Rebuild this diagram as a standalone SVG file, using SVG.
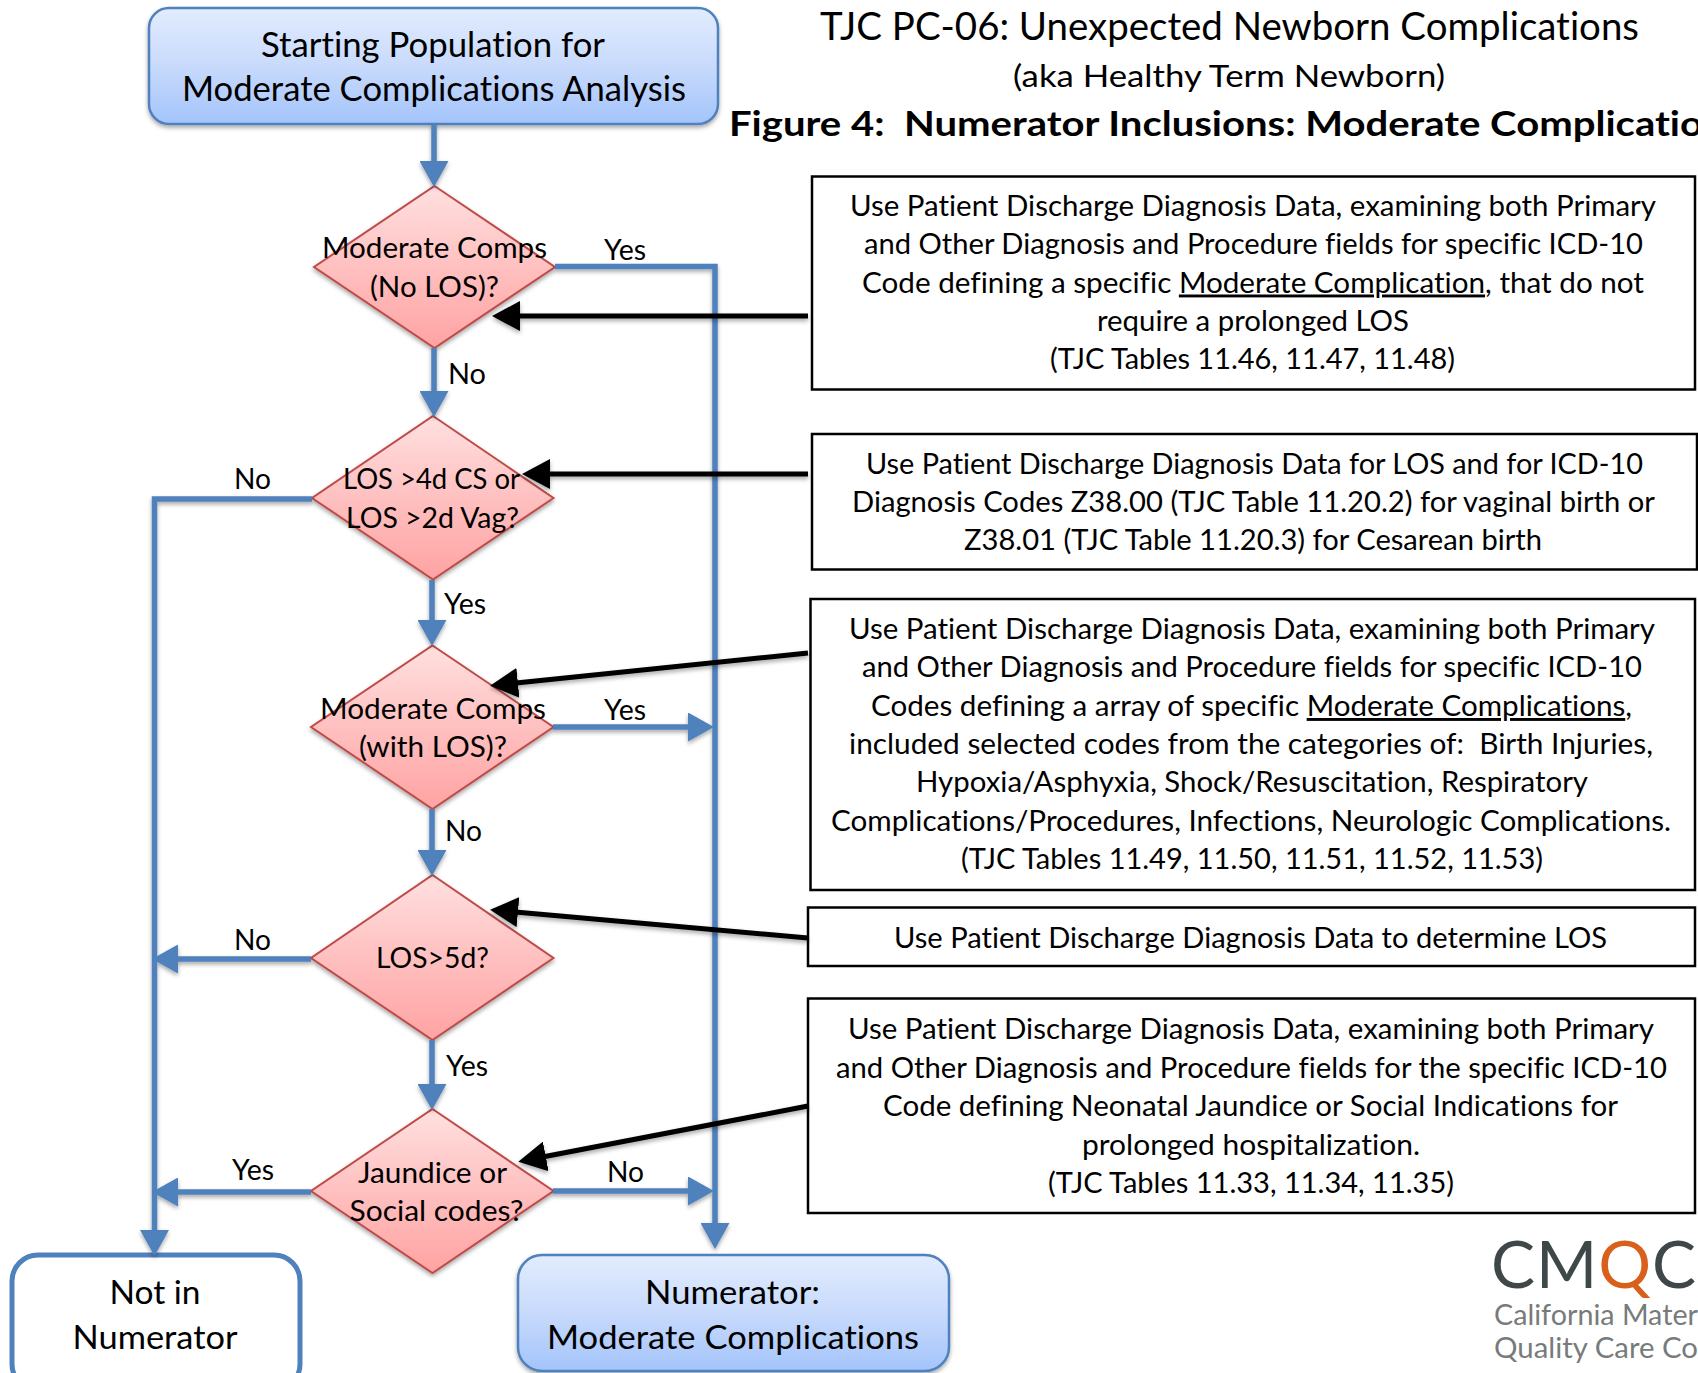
<svg xmlns="http://www.w3.org/2000/svg" width="1698" height="1373" viewBox="0 0 1698 1373">
<style>
text{font-family:Lato,"Liberation Sans",sans-serif;font-size:29px;fill:#000;white-space:pre;font-variant-ligatures:none}
.h1{font-size:38px}.h2{font-size:31px}.h3{font-size:35px;font-weight:700}
.lg{font-size:34px}.end{font-size:33px}
.u{text-decoration:underline}
.blue{fill:none;stroke:#4F81BD;stroke-width:5.5}
.black{fill:none;stroke:#000;stroke-width:5}
.start{fill:url(#gb);stroke:#4F81BD;stroke-width:2.5}
.dia{fill:url(#gr);stroke:#BE4B48;stroke-width:2}
.note{fill:#fff;stroke:#000;stroke-width:2.5}
.shadow{filter:url(#sh)}
.logo{font-size:66px;fill:#3F4848}
.logo2{font-size:28px;fill:#777B7B}
</style>
<defs>
<linearGradient id="gb" x1="0" y1="0" x2="0" y2="1"><stop offset="0" stop-color="#E2ECFE"/><stop offset="0.5" stop-color="#C8DAFC"/><stop offset="1" stop-color="#A3C4FB"/></linearGradient>
<linearGradient id="gr" x1="0" y1="0" x2="0" y2="1"><stop offset="0" stop-color="#FFE0E0"/><stop offset="0.5" stop-color="#FFC0C0"/><stop offset="1" stop-color="#FFA3A3"/></linearGradient>
<filter id="sh" x="-10%" y="-10%" width="120%" height="125%"><feDropShadow dx="0" dy="2.5" stdDeviation="2" flood-color="#000" flood-opacity="0.35"/></filter>
<marker id="ab" markerUnits="userSpaceOnUse" markerWidth="26" markerHeight="29" refX="13" refY="14.5" orient="auto"><path d="M0 0L26 14.5L0 29Z" fill="#4F81BD"/></marker>
<marker id="ak" markerUnits="userSpaceOnUse" markerWidth="28" markerHeight="30" refX="14" refY="15" orient="auto"><path d="M0 0L28 15L0 30Z" fill="#000"/></marker>
</defs>
<rect width="1698" height="1373" fill="#fff"/>

<g id="titles">
<text class="h1" x="820" y="40" textLength="819" lengthAdjust="spacingAndGlyphs">TJC PC-06: Unexpected Newborn Complications</text>
<text class="h2" x="1013" y="87" textLength="432" lengthAdjust="spacingAndGlyphs">(aka Healthy Term Newborn)</text>
<text class="h3" x="729" y="136" textLength="974" lengthAdjust="spacingAndGlyphs">Figure 4:  Numerator Inclusions: Moderate Complicatio</text>
</g>

<g id="node-start">
<rect class="start shadow" x="149" y="8" width="569" height="116" rx="20"/>
<text class="lg" x="261" y="57" textLength="344" lengthAdjust="spacingAndGlyphs">Starting Population for</text>
<text class="lg" x="182" y="101" textLength="504" lengthAdjust="spacingAndGlyphs">Moderate Complications Analysis</text>
</g>
<g id="node-d1">
<polygon class="dia shadow" points="434.5,186 555,267 434.5,348 314,267"/>
<text x="322" y="258" textLength="225" lengthAdjust="spacingAndGlyphs">Moderate Comps</text>
<text x="370" y="297" textLength="129" lengthAdjust="spacingAndGlyphs">(No LOS)?</text>
</g>
<g id="node-d2">
<polygon class="dia shadow" points="433,416 553.5,498 433,579.5 312,498"/>
<text x="343" y="489" textLength="177" lengthAdjust="spacingAndGlyphs">LOS &gt;4d CS or</text>
<text x="346" y="528" textLength="173" lengthAdjust="spacingAndGlyphs">LOS &gt;2d Vag?</text>
</g>
<g id="node-d3">
<polygon class="dia shadow" points="432.5,645.5 553.5,727 432.5,809 311,727"/>
<text x="320" y="719" textLength="226" lengthAdjust="spacingAndGlyphs">Moderate Comps</text>
<text x="359" y="757" textLength="148" lengthAdjust="spacingAndGlyphs">(with LOS)?</text>
</g>
<g id="node-d4">
<polygon class="dia shadow" points="432.5,875 553.5,958 432.5,1040 311,958"/>
<text x="376" y="968" textLength="113" lengthAdjust="spacingAndGlyphs">LOS&gt;5d?</text>
</g>
<g id="node-d5">
<polygon class="dia shadow" points="432.5,1109 553.5,1191 432.5,1273 311,1191"/>
<text x="358" y="1183" textLength="149" lengthAdjust="spacingAndGlyphs">Jaundice or</text>
<text x="349.5" y="1220.5" textLength="174" lengthAdjust="spacingAndGlyphs">Social codes?</text>
</g>
<g id="node-not">
<rect x="12" y="1255" width="288" height="135" rx="26" fill="#fff" stroke="#4F81BD" stroke-width="5"/>
<text class="end" x="109.5" y="1304" textLength="91" lengthAdjust="spacingAndGlyphs">Not in</text>
<text class="end" x="72.5" y="1349" textLength="165" lengthAdjust="spacingAndGlyphs">Numerator</text>
</g>
<g id="node-num">
<rect class="start shadow" x="518" y="1255" width="431" height="116" rx="24"/>
<text class="end" x="645" y="1304" textLength="175" lengthAdjust="spacingAndGlyphs">Numerator:</text>
<text class="end" x="547" y="1349" textLength="372" lengthAdjust="spacingAndGlyphs">Moderate Complications</text>
</g>

<g id="note-1">
<rect class="note" x="812" y="176.5" width="883" height="213"/>
<text x="850" y="216" textLength="806" lengthAdjust="spacingAndGlyphs">Use Patient Discharge Diagnosis Data, examining both Primary</text>
<text x="864" y="254" textLength="779" lengthAdjust="spacingAndGlyphs">and Other Diagnosis and Procedure fields for specific ICD-10</text>
<text x="862" y="292.5" textLength="782" lengthAdjust="spacingAndGlyphs">Code defining a specific <tspan class="u">Moderate Complication</tspan>, that do not</text>
<text x="1097" y="330.5" textLength="312" lengthAdjust="spacingAndGlyphs">require a prolonged LOS</text>
<text x="1050" y="369" textLength="405" lengthAdjust="spacingAndGlyphs">(TJC Tables 11.46, 11.47, 11.48)</text>
</g>
<g id="note-2">
<rect class="note" x="812" y="434" width="885" height="135.5"/>
<text x="866" y="473.5" textLength="777" lengthAdjust="spacingAndGlyphs">Use Patient Discharge Diagnosis Data for LOS and for ICD-10</text>
<text x="852" y="511.5" textLength="803" lengthAdjust="spacingAndGlyphs">Diagnosis Codes Z38.00 (TJC Table 11.20.2) for vaginal birth or</text>
<text x="964" y="550" textLength="578" lengthAdjust="spacingAndGlyphs">Z38.01 (TJC Table 11.20.3) for Cesarean birth</text>
</g>
<g id="note-3">
<rect class="note" x="810.5" y="599" width="884.5" height="291"/>
<text x="849" y="639" textLength="806" lengthAdjust="spacingAndGlyphs">Use Patient Discharge Diagnosis Data, examining both Primary</text>
<text x="862" y="677" textLength="780" lengthAdjust="spacingAndGlyphs">and Other Diagnosis and Procedure fields for specific ICD-10</text>
<text x="871" y="716" textLength="761" lengthAdjust="spacingAndGlyphs">Codes defining a array of specific <tspan class="u">Moderate Complications</tspan>,</text>
<text x="849" y="754" textLength="804" lengthAdjust="spacingAndGlyphs">included selected codes from the categories of:  Birth Injuries,</text>
<text x="916" y="792" textLength="672" lengthAdjust="spacingAndGlyphs">Hypoxia/Asphyxia, Shock/Resuscitation, Respiratory</text>
<text x="831" y="831" textLength="840" lengthAdjust="spacingAndGlyphs">Complications/Procedures, Infections, Neurologic Complications.</text>
<text x="961" y="869" textLength="582" lengthAdjust="spacingAndGlyphs">(TJC Tables 11.49, 11.50, 11.51, 11.52, 11.53)</text>
</g>
<g id="note-4">
<rect class="note" x="808" y="907.5" width="887" height="58.5"/>
<text x="894" y="948" textLength="713" lengthAdjust="spacingAndGlyphs">Use Patient Discharge Diagnosis Data to determine LOS</text>
</g>
<g id="note-5">
<rect class="note" x="808" y="998.5" width="887" height="214.5"/>
<text x="848" y="1039" textLength="806" lengthAdjust="spacingAndGlyphs">Use Patient Discharge Diagnosis Data, examining both Primary</text>
<text x="836" y="1078" textLength="831" lengthAdjust="spacingAndGlyphs">and Other Diagnosis and Procedure fields for the specific ICD-10</text>
<text x="883" y="1116" textLength="735" lengthAdjust="spacingAndGlyphs">Code defining Neonatal Jaundice or Social Indications for</text>
<text x="1082" y="1154.5" textLength="338" lengthAdjust="spacingAndGlyphs">prolonged hospitalization.</text>
<text x="1048" y="1193" textLength="406" lengthAdjust="spacingAndGlyphs">(TJC Tables 11.33, 11.34, 11.35)</text>
</g>

<g id="connectors">
<g class="shadow">
<path class="blue" d="M434 124V174" marker-end="url(#ab)"/>
<path class="blue" d="M555 266.5H715V1236" marker-end="url(#ab)"/>
<path class="blue" d="M434 348V404" marker-end="url(#ab)"/>
<path class="blue" d="M312 499H154.500V1243" marker-end="url(#ab)"/>
<path class="blue" d="M432 580V633" marker-end="url(#ab)"/>
<path class="blue" d="M553 727H701" marker-end="url(#ab)"/>
<path class="blue" d="M432 809V863" marker-end="url(#ab)"/>
<path class="blue" d="M311 959H165" marker-end="url(#ab)"/>
<path class="blue" d="M432 1040V1097" marker-end="url(#ab)"/>
<path class="blue" d="M311 1192H165" marker-end="url(#ab)"/>
<path class="blue" d="M553 1191H701" marker-end="url(#ab)"/>
</g>
<g class="shadow">
<path class="black" d="M808 316H506" marker-end="url(#ak)"/>
<path class="black" d="M808 474H536" marker-end="url(#ak)"/>
<path class="black" d="M808 653L504 684.3" marker-end="url(#ak)"/>
<path class="black" d="M808 938L504 910.9" marker-end="url(#ak)"/>
<path class="black" d="M808 1106L532 1159" marker-end="url(#ak)"/>
</g>
</g>

<g id="connector-labels">
<text x="604" y="260" textLength="42" lengthAdjust="spacingAndGlyphs">Yes</text>
<text x="448" y="384" textLength="38" lengthAdjust="spacingAndGlyphs">No</text>
<text x="234" y="489" textLength="37" lengthAdjust="spacingAndGlyphs">No</text>
<text x="444" y="614" textLength="42" lengthAdjust="spacingAndGlyphs">Yes</text>
<text x="604" y="720" textLength="42" lengthAdjust="spacingAndGlyphs">Yes</text>
<text x="445" y="841" textLength="37" lengthAdjust="spacingAndGlyphs">No</text>
<text x="234" y="950" textLength="37" lengthAdjust="spacingAndGlyphs">No</text>
<text x="446" y="1076" textLength="42" lengthAdjust="spacingAndGlyphs">Yes</text>
<text x="232" y="1180" textLength="42" lengthAdjust="spacingAndGlyphs">Yes</text>
<text x="607" y="1182" textLength="37" lengthAdjust="spacingAndGlyphs">No</text>
</g>

<g id="logo">
<text class="logo" x="1491" y="1288" textLength="205">CM<tspan fill="#D9601A">Q</tspan>C</text>
<text class="logo2" x="1494" y="1325" textLength="204" lengthAdjust="spacingAndGlyphs">California Mater</text>
<text class="logo2" x="1494" y="1358" textLength="204" lengthAdjust="spacingAndGlyphs">Quality Care Co</text>
</g>
</svg>
